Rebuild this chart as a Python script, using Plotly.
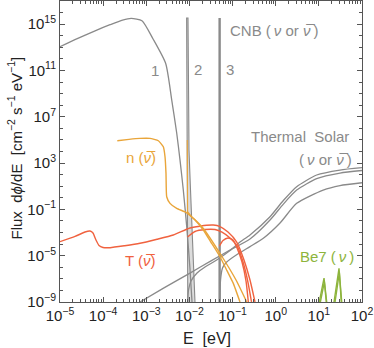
import numpy as np
import plotly.graph_objects as go

# ---- data: log10(E / eV) and log10(flux) ----
cnb1_logE = [-5.0, -4.6, -4.2, -3.84, -3.55, -3.35, -3.1, -2.84, -2.55, -2.41, -2.295, -2.218, -2.142, -2.06, -1.99, -1.94]
cnb1_logF = [13.05, 13.75, 14.4, 14.95, 15.35, 15.5, 15.3, 13.7, 11.6, 8.44, 5.6, 3.26, 0.67, -2.6, -6.0, -9.0]

cnb2_logE = [-2.038, -2.056, -2.065, -2.033, -2.028, -2.021, -2.010, -1.975, -1.922, -1.871]
cnb2_logF = [-9.0, 4.13, 15.53, 15.53, 11.9, 8.44, 4.13, 0.67, -4.51, -9.0]

cnb3_logE = [-1.30, -1.30]
cnb3_logF = [-9.0, 15.53]

n_main_logE = [-3.672, -3.40, -3.146, -2.914, -2.721, -2.605, -2.566, -2.543, -2.527, -2.450, -2.295, -2.063,
               -1.871, -1.678, -1.50, -1.291, -1.13, -0.983, -0.828]
n_main_logF = [4.93, 5.05, 5.13, 5.13, 4.93, 4.41, 3.55, 2.11, 0.09, -0.48, -0.91, -1.29,
               -1.92, -2.78, -3.84, -5.09, -6.29, -7.39, -9.0]
n_b_logE = [-2.063, -1.871, -1.678, -1.268, -0.92, -0.672]
n_b_logF = [-1.29, -1.90, -2.65, -4.94, -7.1, -9.0]
n_m2_logE = [-2.050, -2.047, -2.042, -1.95]
n_m2_logF = [5.0, 1.5, -1.2, -1.65]

t_a_logE = [-5.0, -4.652, -4.42, -4.305, -4.235, -4.166, -4.096, -4.003, -3.84, -3.5, -3.146, -2.75, -2.374,
            -1.987, -1.755, -1.60, -1.446, -1.291, -1.106, -0.904, -0.735, -0.596, -0.480]
t_a_logF = [-3.79, -3.34, -2.955, -2.87, -3.04, -3.65, -4.12, -4.29, -4.31, -4.14, -3.93, -3.58, -3.21,
            -2.61, -2.45, -2.37, -2.35, -2.48, -2.96, -3.82, -5.37, -7.10, -9.0]
t_b_logE = [-2.044, -1.871, -1.639, -1.407, -1.245, -1.059, -0.897, -0.758, -0.654, -0.561]
t_b_logF = [-3.39, -2.91, -2.74, -2.74, -2.96, -3.47, -4.16, -5.55, -7.1, -9.0]
t_c_logE = [-1.303, -1.222, -1.106, -0.990, -0.897, -0.781, -0.688, -0.635]
t_c_logF = [-4.16, -3.69, -3.47, -3.65, -4.34, -5.55, -7.19, -9.0]

sol1_logE = [-3.146, -2.6, -1.987, -1.5, -1.06, -0.596, -0.132, 0.177, 0.486, 0.95, 1.49, 2.0]
sol1_logF = [-9.0, -7.8, -6.5, -5.45, -4.51, -3.56, -1.92, -0.54, 0.67, 1.66, 2.14, 2.36]
sol2_logE = [-2.044, -2.021, -1.963, -1.824, -1.639, -1.368, -1.059, -0.828, -0.596, -0.132, 0.177, 0.486, 0.95, 1.49, 2.0]
sol2_logF = [-9.0, -7.96, -7.19, -6.50, -5.98, -5.37, -4.55, -3.82, -3.21, -1.63, -0.235, 0.96, 1.97, 2.40, 2.60]
sol3_logE = [-1.296, -1.279, -1.233, -1.136, -0.897, -0.596, -0.287, 0.1, 0.486, 1.10, 1.49, 2.0]
sol3_logF = [-9.0, -7.1, -6.06, -5.55, -4.90, -4.22, -3.5, -2.18, -0.48, 0.67, 1.06, 1.30]

be7_a_logE = [1.010, 1.120, 1.182, None, 1.351, 1.467, 1.530]
be7_a_logF = [-9.0, -6.93, -9.0, None, -9.0, -6.09, -9.0]
be7_b_logE = [1.035, 1.128, 1.172, None, 1.375, 1.475, 1.520]
be7_b_logF = [-9.0, -7.25, -9.0, None, -9.0, -6.45, -9.0]

x_tick_exponents = [-5, -4, -3, -2, -1, 0, 1, 2]
y_tick_exponents = [-9, -5, -1, 3, 7, 11, 15]

GRAY = '#8a8a8a'
ORANGE = '#E9A53A'
RED = '#F0623F'
GREEN = '#8DB43C'
FONT = 'Liberation Sans, Arial, sans-serif'


def lin(v):
    return [None if a is None else 10.0 ** a for a in v]


def pow_label(e):
    return '10<sup>' + str(e).replace('-', '−') + '</sup>'


fig = go.Figure()


def add(lx, ly, color, width=1.3, shape='spline', smooth=0.6, **kw):
    line = dict(color=color, width=width, shape=shape)
    if shape == 'spline':
        line['smoothing'] = smooth
    fig.add_trace(go.Scatter(x=lin(lx), y=lin(ly), mode='lines', line=line,
                             showlegend=False, hoverinfo='skip', **kw))


# CNB curves
add(cnb2_logE, cnb2_logF, GRAY, 1.1, shape='linear', fill='toself', fillcolor='#dcdcdc')
add(cnb1_logE, cnb1_logF, GRAY, 1.3)
add(cnb3_logE, cnb3_logF, GRAY, 2.4, shape='linear')
# thermal solar
add(sol1_logE, sol1_logF, GRAY, 1.3)
add(sol2_logE, sol2_logF, GRAY, 1.3)
add(sol3_logE, sol3_logF, GRAY, 1.3)
# T (anti-nu)
add(t_a_logE, t_a_logF, RED, 1.4, smooth=0.5)
add(t_b_logE, t_b_logF, RED, 1.4)
add(t_c_logE, t_c_logF, RED, 1.4)
# n (anti-nu)
add(n_main_logE, n_main_logF, ORANGE, 1.4, smooth=0.4)
add(n_b_logE, n_b_logF, ORANGE, 1.4)
add(n_m2_logE, n_m2_logF, ORANGE, 1.1, shape='linear')
# Be7
add(be7_a_logE, be7_a_logF, GREEN, 1.4, shape='linear')
add(be7_b_logE, be7_b_logF, GREEN, 1.4, shape='linear')

axis_common = dict(type='log', showline=True, linecolor='#555555', linewidth=1,
                   mirror='allticks', ticks='inside', tickcolor='#555555', ticklen=5,
                   showgrid=False, zeroline=False, automargin=False,
                   tickfont=dict(family=FONT, size=15, color='#222222'))

fig.update_xaxes(range=[-5, 2], tickvals=lin(x_tick_exponents),
                 ticktext=[pow_label(e) for e in x_tick_exponents], **axis_common,
                 minor=dict(ticks='inside', ticklen=3, tickcolor='#555555', dtick='D1'))
fig.update_yaxes(range=[-9, 17.0], tickvals=lin(y_tick_exponents),
                 ticktext=[pow_label(e) for e in y_tick_exponents], **axis_common,
                 minor=dict(ticks='inside', ticklen=3, tickcolor='#555555', dtick=1))

ann_font = dict(family=FONT, size=15)
nubar = '<i>ν\u0305</i>'
annotations = [
    dict(x=0.556, y=0.901, text='CNB (\u2009<i>ν</i> or ' + nubar + '\u2009)', xanchor='left', font=dict(color=GRAY)),
    dict(x=0.315, y=0.770, text='1', font=dict(color=GRAY)),
    dict(x=0.456, y=0.771, text='2', font=dict(color=GRAY)),
    dict(x=0.563, y=0.771, text='3', font=dict(color=GRAY)),
    dict(x=0.962, y=0.55, text='Thermal\u00a0\u00a0Solar', xanchor='right', font=dict(color=GRAY)),
    dict(x=0.972, y=0.473, text='(\u2009<i>ν</i> or ' + nubar + '\u2009)', xanchor='right', font=dict(color=GRAY)),
    dict(x=0.268, y=0.48, text='n (' + nubar + ')', font=dict(color=ORANGE)),
    dict(x=0.265, y=0.137, text='T (' + nubar + ')', font=dict(color=RED)),
    dict(x=0.884, y=0.150, text='Be7 (\u2009<i>ν</i>\u2009)', font=dict(color=GREEN)),
]
for a in annotations:
    a['font'] = dict(ann_font, **a['font'])
    a.update(xref='paper', yref='paper', showarrow=False)
    a.setdefault('xanchor', 'center')
    a.setdefault('yanchor', 'middle')

annotations.append(dict(x=-0.149, y=0.51, xref='paper', yref='paper', showarrow=False,
                        text='Flux\u00a0\u00a0d<i>ϕ</i>/dE\u00a0\u00a0[cm<sup>−2</sup> s<sup>−1</sup> eV<sup>−1</sup>]',
                        textangle=-90, font=dict(family=FONT, size=15, color='#222222'),
                        xanchor='center', yanchor='middle'))
annotations.append(dict(x=0.488, y=-0.12, xref='paper', yref='paper', showarrow=False,
                        text='E\u00a0\u00a0[eV]', font=dict(family=FONT, size=16, color='#222222'),
                        xanchor='center', yanchor='middle'))

fig.update_layout(width=374, height=348, margin=dict(l=60, r=12, t=1, b=46),
                  paper_bgcolor='white', plot_bgcolor='white', annotations=annotations,
                  showlegend=False)

fig.write_html('out.html', config={'displayModeBar': False},
               post_script="document.body.style.margin='0';document.body.style.overflow='hidden';")
